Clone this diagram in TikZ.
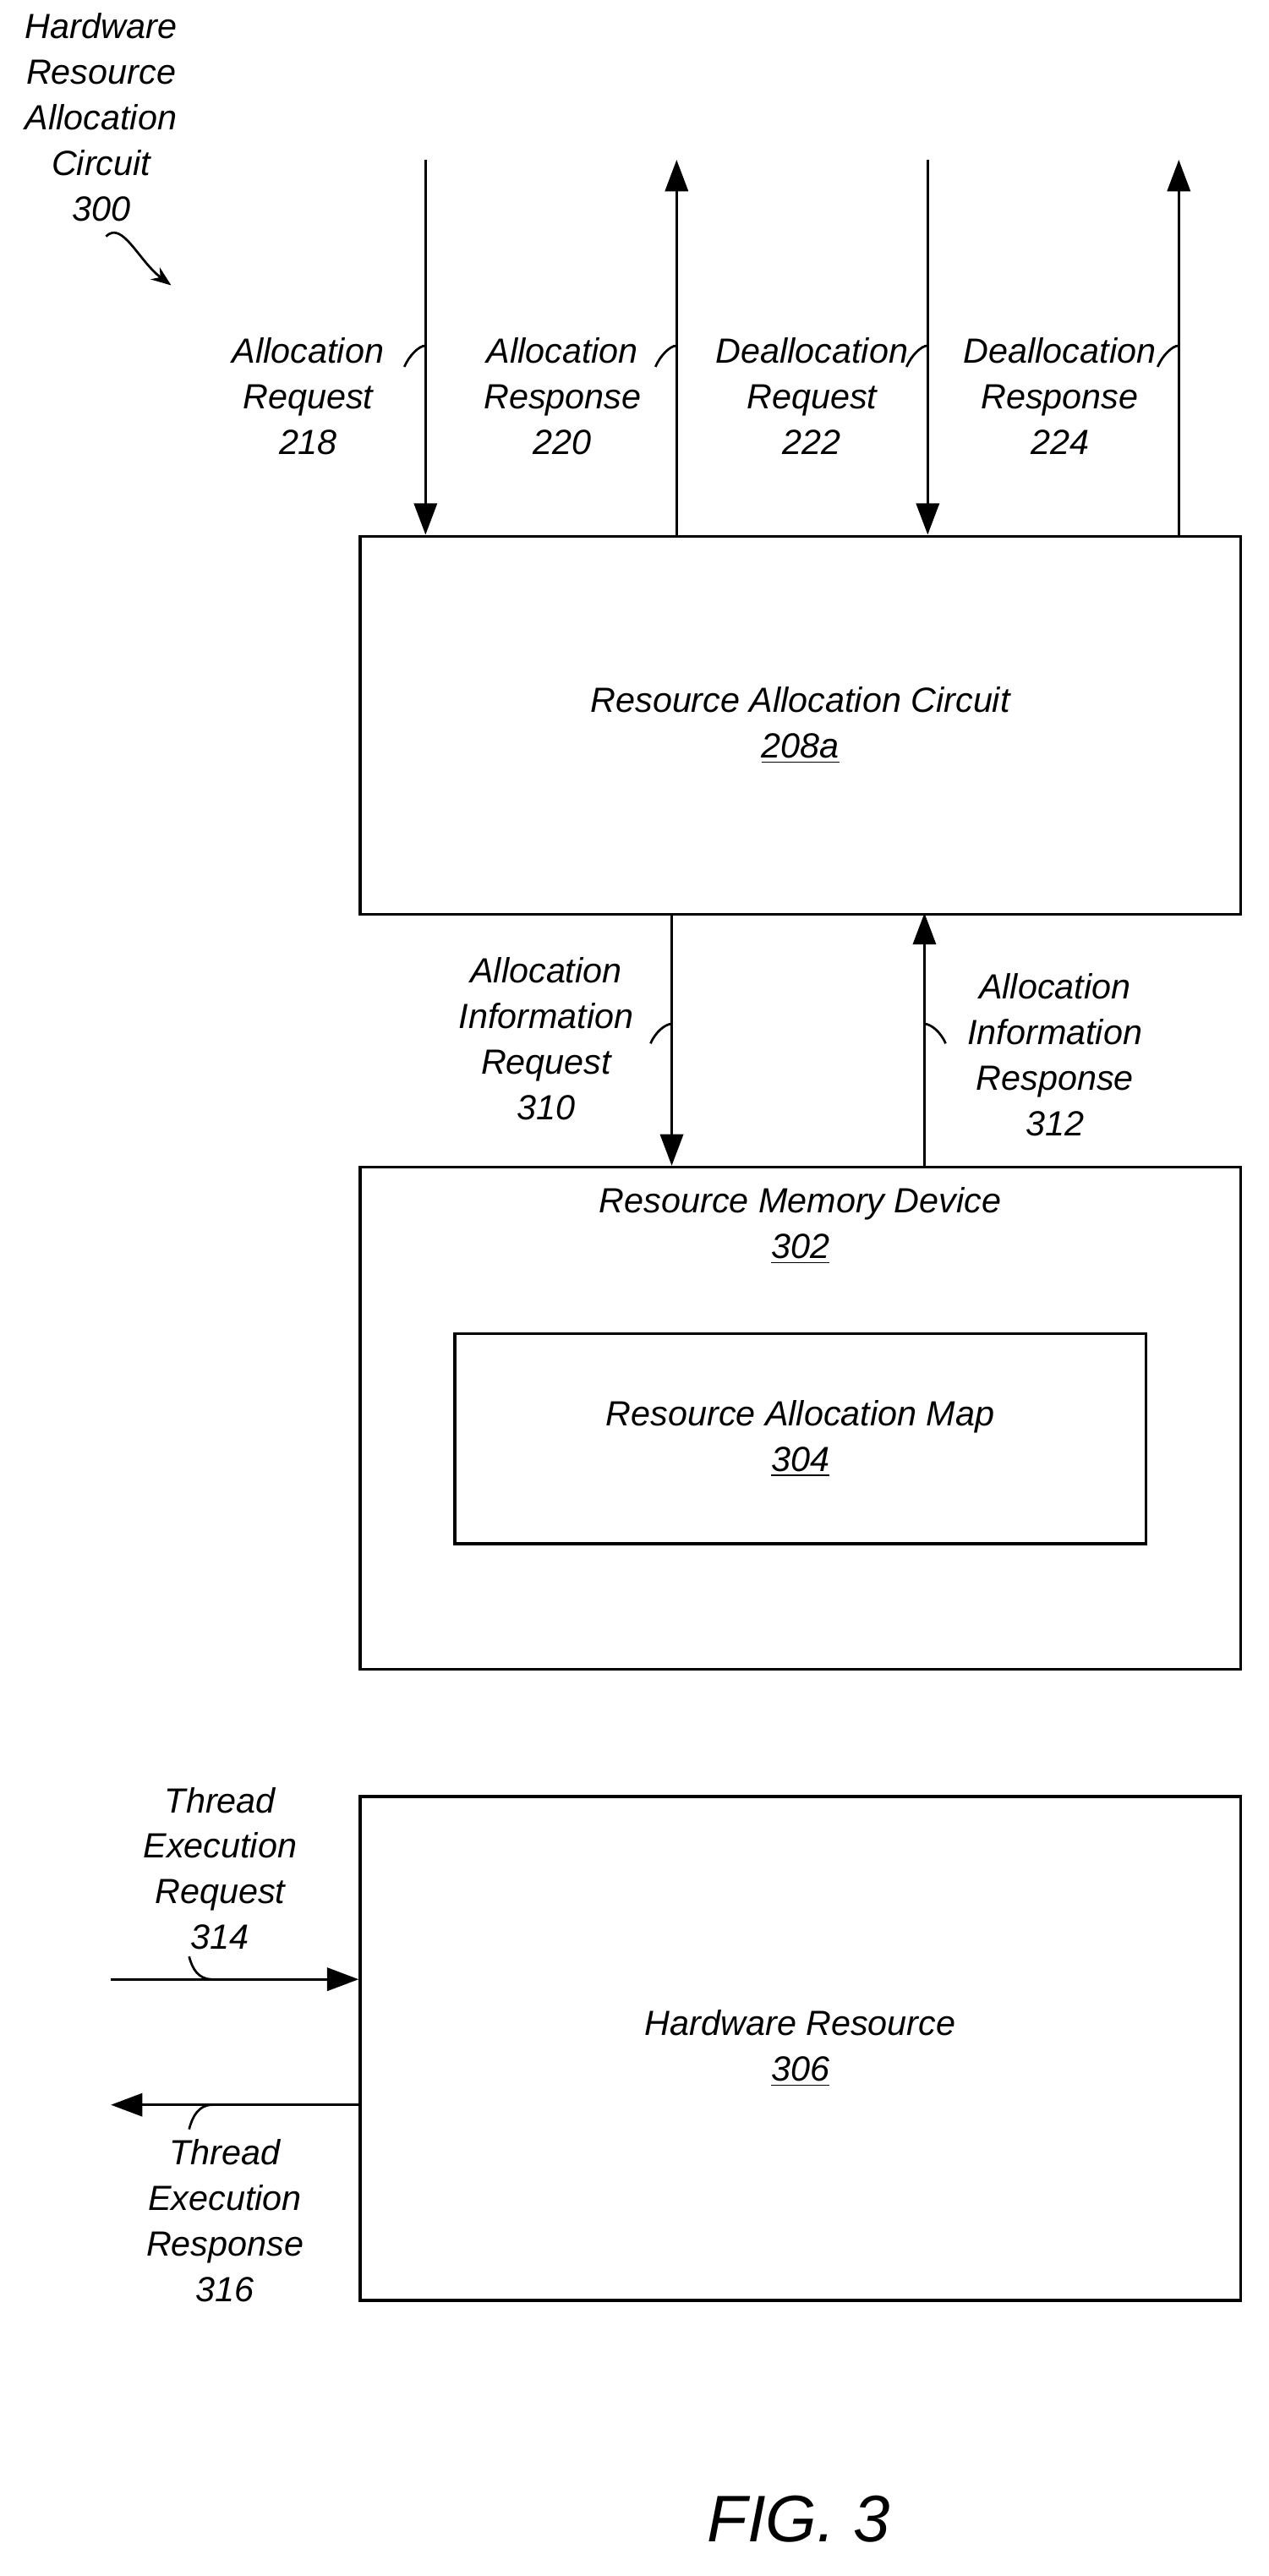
\documentclass[tikz,border=0pt]{standalone}
\usepackage{fontspec}
\setmainfont{Liberation Sans}
\usetikzlibrary{arrows.meta, positioning}

\begin{document}
\begin{tikzpicture}[x=0.02cm, y=-0.02cm,
    box/.style={draw, line width=1pt, anchor=north west, inner sep=0pt},
    lbl/.style={align=center, font=\itshape\fontsize{12.2}{15.9}\selectfont},
    sig/.style={line width=1pt, -{Triangle[length=11pt, width=8pt]}},
    squig/.style={line width=0.8pt}]
    \useasboundingbox (0,0) rectangle (778,1580);

    % Boxes
    \node[box, minimum width=540*0.02cm, minimum height=232*0.02cm] (rac) at (220,328) {};
    \node[lbl] at (rac.center) {Resource Allocation Circuit\\\underline{208a}};
    \node[box, minimum width=540*0.02cm, minimum height=308*0.02cm] (rmd) at (220,715) {};
    \node[lbl, below=4pt of rmd.north] {Resource Memory Device\\\underline{302}};
    \node[box, minimum width=424*0.02cm, minimum height=129*0.02cm] (ram) at (278,817) {};
    \node[lbl] at (ram.center) {Resource Allocation Map\\\underline{304}};
    \node[box, minimum width=540*0.02cm, minimum height=309*0.02cm] (hwr) at (220,1101) {};
    \node[lbl] at (hwr.center) {Hardware Resource\\\underline{306}};

    % Top signals
    \coordinate (t1) at (261,98);
    \coordinate (t2) at (415,98);
    \coordinate (t3) at (569,98);
    \coordinate (t4) at (723,98);
    \draw[sig] (t1) -- (t1 |- rac.north);
    \draw[sig] (t2 |- rac.north) -- (t2);
    \draw[sig] (t3) -- (t3 |- rac.north);
    \draw[sig] (t4 |- rac.north) -- (t4);
    \node[lbl] (areq) at (189,243) {Allocation\\Request\\218};
    \node[lbl] (ares) at (345,243) {Allocation\\Response\\220};
    \node[lbl] (dreq) at (498,243) {Deallocation\\Request\\222};
    \node[lbl] (dres) at (650,243) {Deallocation\\Response\\224};
    \foreach \x in {261,415,569,723}
        \draw[squig] (\x-13,225) .. controls (\x-10,218) and (\x-4,212) .. (\x,212);

    % Middle signals
    \coordinate (m1) at (412,560);
    \coordinate (m2) at (567,560);
    \draw[sig] (m1) -- (m1 |- rmd.north);
    \draw[sig] (m2 |- rmd.north) -- (m2);
    \node[lbl] (aireq) at (335,637) {Allocation\\Information\\Request\\310};
    \node[lbl] (aires) at (647,647) {Allocation\\Information\\Response\\312};
    \draw[squig] (399,640) .. controls (402,633) and (408,628) .. (412,628);
    \draw[squig] (580,640) .. controls (577,633) and (571,628) .. (567,628);

    % Thread signals
    \coordinate (l1) at (68,1214);
    \coordinate (l2) at (68,1291);
    \draw[sig] (l1) -- (l1 -| hwr.west);
    \draw[sig] (l2 -| hwr.west) -- (l2);
    \node[lbl] (treq) at (135,1146) {Thread\\Execution\\Request\\314};
    \node[lbl] (tres) at (138,1362) {Thread\\Execution\\Response\\316};
    \draw[squig] (116,1200) .. controls (118,1208) and (122,1214) .. (130,1214);
    \draw[squig] (116,1306) .. controls (118,1298) and (122,1291) .. (130,1291);

    % Title
    \node[lbl] (hrac) at (62,72) {Hardware\\Resource\\Allocation\\Circuit\\300};
    \draw[squig, -{Stealth[length=7pt]}] (65,145) .. controls (75,135) and (85,160) .. (105,175);
    \node[font=\fontsize{23}{28}\selectfont\itshape] (fig) at (490,1545) {FIG. 3};
\end{tikzpicture}
\end{document}
